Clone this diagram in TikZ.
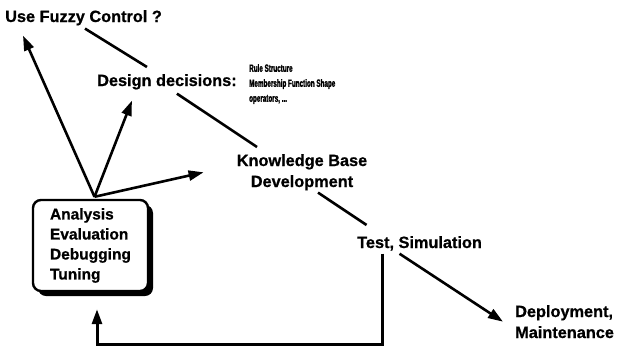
\documentclass[tikz,border=0pt]{standalone}
\usepackage{fontspec}
\setmainfont{Liberation Sans}[BoldFeatures={FakeBold=0.8}]
\newfontfamily\estrecha{Liberation Sans}[FakeStretch=0.6,BoldFeatures={FakeBold=1.6}]
\usetikzlibrary{arrows.meta,shadows}

\begin{document}
\begin{tikzpicture}[x=1pt,y=-1pt,
    etiqueta/.style={inner sep=0pt,font=\bfseries\fontsize{16.3}{21}\selectfont},
    caja/.style={draw,line width=2.4pt,rounded corners=8pt,fill=white,
      minimum width=115pt,minimum height=91pt,text width=81pt,inner xsep=17pt,
      align=left,font=\bfseries\fontsize{15.5}{20}\selectfont,
      drop shadow={shadow xshift=5pt,shadow yshift=-5pt,fill=black,opacity=1}},
    flecha/.style={line width=2.6pt,-{Triangle[length=15pt,width=10pt]}},
    linea/.style={line width=2.6pt}]
  \useasboundingbox (0,0) rectangle (621,349);

  % Etapas del desarrollo
  \node[etiqueta,anchor=base west] (fuzzy) at (5,22) {Use Fuzzy Control ?};
  \node[etiqueta,anchor=base west] (design) at (97,86) {Design decisions:};
  \node[inner sep=0pt,anchor=north west,align=left,
    font=\estrecha\bfseries\fontsize{10.5}{15}\selectfont] (rules) at (249,64)
    {Rule Structure\\Membership Function Shape\\operators, ...};
  \node[etiqueta,anchor=north,align=center] (kb) at (302,154) {Knowledge Base\\Development};
  \node[etiqueta,anchor=base west] (test) at (357,248) {Test, Simulation};
  \node[etiqueta,anchor=north west,align=left] (deploy) at (515,305) {Deployment,\\Maintenance};

  % Caja de analisis (con sombra)
  \node[caja] (box) at (90.5,245.5) {Analysis\\Evaluation\\Debugging\\Tuning};

  % Camino principal
  \draw[linea] ([xshift=80pt,yshift=-3pt]fuzzy.south west) -- ([xshift=-20pt,yshift=7pt]design.north);
  \draw[linea] ([xshift=10pt,yshift=-4pt]design.south) -- ([xshift=-45pt,yshift=7pt]kb.north);
  \draw[linea] ([xshift=16pt,yshift=-2pt]kb.south) -- ([xshift=-53pt,yshift=11pt]test.north);
  \draw[flecha] ([xshift=-20pt,yshift=-3pt]test.south) -- ([xshift=-12pt]deploy.west);

  % Flechas desde el analisis
  \draw[flecha] ([xshift=4pt,yshift=2pt]box.north) -- ([xshift=18pt,yshift=-10pt]fuzzy.south west);
  \draw[flecha] ([xshift=4pt,yshift=2pt]box.north) -- ([xshift=-35pt,yshift=-11pt]design.south);
  \draw[flecha] ([xshift=4pt,yshift=2pt]box.north) -- ([xshift=-33pt]kb.west);

  % Realimentacion
  \draw[flecha,line width=3pt,line join=miter] ([xshift=-37pt,yshift=-3pt]test.south) -- ++(0,91)
    -| ([xshift=6.5pt,yshift=-17pt]box.south);
\end{tikzpicture}
\end{document}
